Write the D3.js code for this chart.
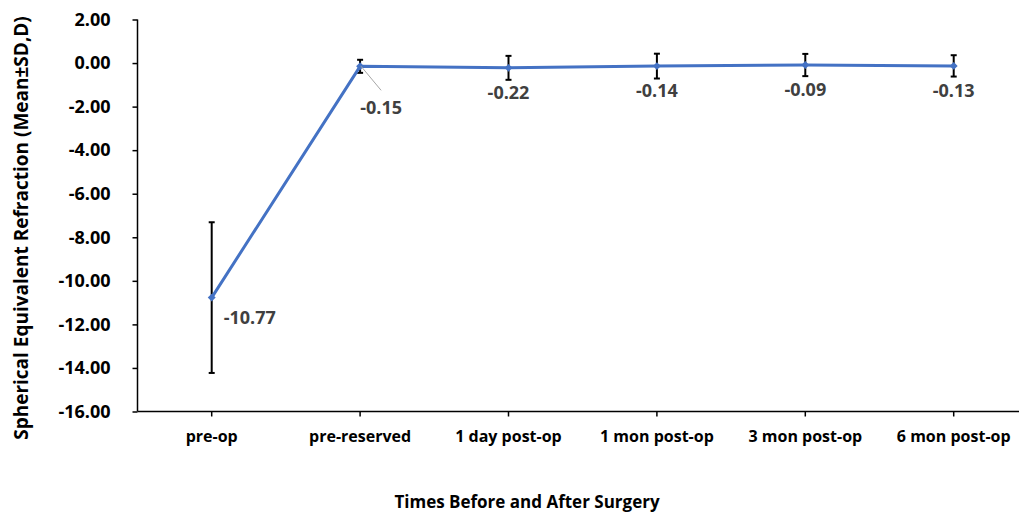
<!DOCTYPE html>
<html>
<head>
<meta charset="utf-8">
<script src="https://cdn.jsdelivr.net/npm/d3@7"></script>
<style>
  body { margin: 0; background: #fff; }
  svg { display: block; font-family: "Open Sans", sans-serif; font-weight: bold; }
  .axis path, .axis line { stroke: #000; stroke-width: 1.5; }
  .axis text { fill: #000; font-size: 16px; font-weight: bold; font-family: "Open Sans", sans-serif; }
</style>
</head>
<body>
<svg width="1019" height="512"></svg>
<script>
var categories = ["pre-op", "pre-reserved", "1 day post-op", "1 mon post-op", "3 mon post-op", "6 mon post-op"];
var means = [-10.77, -0.15, -0.22, -0.14, -0.09, -0.13];
var sds = [3.46, 0.30, 0.55, 0.57, 0.51, 0.49];
var yTicks = [2, 0, -2, -4, -6, -8, -10, -12, -14, -16];

var svg = d3.select("svg"),
    width = +svg.attr("width"),
    height = +svg.attr("height");

var plotLeft = 137.5, plotTop = 19.5, plotBottom = 411.5;

var x = d3.scaleBand()
    .domain(categories)
    .range([plotLeft, plotLeft + 6 * 148.4]);

var y = d3.scaleLinear()
    .domain([-16, 2])
    .range([plotBottom, plotTop]);

var cx = (d) => x(d) + x.bandwidth() / 2;

// y axis
var gY = svg.append("g")
    .attr("class", "axis")
    .attr("transform", `translate(${plotLeft},0)`)
    .call(d3.axisLeft(y).tickValues(yTicks).tickSize(5).tickPadding(22)
        .tickFormat((d) => d.toFixed(2)).tickSizeOuter(0));
gY.selectAll("text").style("font-size", "18px");
gY.select(".domain").attr("d", `M0,${plotTop}V${plotBottom}`);

// x axis
var gX = svg.append("g")
    .attr("class", "axis")
    .attr("transform", `translate(0,${plotBottom})`)
    .call(d3.axisBottom(x).tickSize(5).tickPadding(14).tickSizeOuter(0));
gX.select(".domain").attr("d", `M${plotLeft},0H${width}`);

// axis titles
svg.append("text")
    .attr("transform", `translate(28,228) rotate(-90)`)
    .attr("text-anchor", "middle")
    .style("font-size", "19px")
    .text("Spherical Equivalent Refraction (Mean±SD,D)");

svg.append("text")
    .attr("x", 527)
    .attr("y", 508)
    .attr("text-anchor", "middle")
    .style("font-size", "17px")
    .text("Times Before and After Surgery");

// error bars
var bars = svg.append("g")
    .selectAll("g")
    .data(categories)
    .join("g")
    .attr("stroke", "#000")
    .attr("stroke-width", 2);

bars.append("line")
    .attr("x1", cx).attr("x2", cx)
    .attr("y1", (d, i) => y(means[i] + sds[i]))
    .attr("y2", (d, i) => y(means[i] - sds[i]));
bars.append("line")
    .attr("x1", (d) => cx(d) - 3).attr("x2", (d) => cx(d) + 3)
    .attr("y1", (d, i) => y(means[i] + sds[i]))
    .attr("y2", (d, i) => y(means[i] + sds[i]));
bars.append("line")
    .attr("x1", (d) => cx(d) - 3).attr("x2", (d) => cx(d) + 3)
    .attr("y1", (d, i) => y(means[i] - sds[i]))
    .attr("y2", (d, i) => y(means[i] - sds[i]));

// line
var line = d3.line()
    .x((d, i) => cx(categories[i]))
    .y((d) => y(d));

svg.append("path")
    .datum(means)
    .attr("fill", "none")
    .attr("stroke", "#4472C4")
    .attr("stroke-width", 3)
    .attr("stroke-linejoin", "round")
    .attr("d", line);

svg.append("g")
    .selectAll("path")
    .data(means)
    .join("path")
    .attr("d", d3.symbol(d3.symbolDiamond2, 40))
    .attr("fill", "#4472C4")
    .attr("transform", (d, i) => `translate(${cx(categories[i])},${y(d)})`);

// leader line for pre-reserved label
svg.append("line")
    .attr("x1", cx(categories[1]) + 1).attr("y1", y(means[1]))
    .attr("x2", cx(categories[1]) + 21).attr("y2", y(means[1]) + 24)
    .attr("stroke", "#a6a6a6")
    .attr("stroke-width", 1);

// data labels
var labelDx = [38, 21, 0, 0, 0, 0];
var labelDy = [26, 48, 31, 31, 31, 31];
svg.append("g")
    .selectAll("text")
    .data(means)
    .join("text")
    .attr("x", (d, i) => cx(categories[i]) + labelDx[i])
    .attr("y", (d, i) => y(d) + labelDy[i])
    .attr("text-anchor", "middle")
    .attr("fill", "#404040")
    .style("font-size", "18px")
    .text((d) => d.toFixed(2));
</script>
</body>
</html>
